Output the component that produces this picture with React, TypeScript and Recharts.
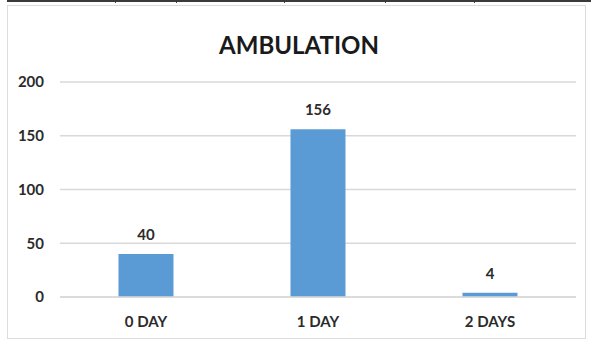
import { BarChart, Bar, XAxis, YAxis, CartesianGrid, LabelList } from 'recharts';

const categories = ['0 DAY', '1 DAY', '2 DAYS'];
const patients = [40, 156, 4];
const yTicks = [0, 50, 100, 150, 200];
// table cell dividers along the strip above the chart
const dividerXs = [115, 176, 284, 385, 474];

const rows = categories.map((day, i) => ({ day, count: patients[i] }));

const font = 'Lato, "Open Sans", sans-serif';
const ink = '#2b2b2b';

export default function App() {
  return (
    <div style={{ position: 'absolute', left: 0, top: 0, width: 591, height: 342, background: '#fff', overflow: 'hidden' }}>
      <div style={{ position: 'absolute', left: 7, top: 0, width: 584, height: 2, background: '#3a3a3a' }} />
      {dividerXs.map((x) => (
        <div key={x} style={{ position: 'absolute', left: x, top: 0, width: 1, height: 3, background: '#3a3a3a' }} />
      ))}
      <div
        style={{
          position: 'absolute',
          left: 7,
          top: 5,
          width: 579,
          height: 334,
          border: '1px solid #dcdcdc',
          boxSizing: 'border-box',
        }}
      />
      <div
        style={{
          position: 'absolute',
          left: 0,
          top: 29,
          width: 598,
          textAlign: 'center',
          fontFamily: font,
          fontWeight: 700,
          fontSize: 24,
          color: '#1a1a1a',
          lineHeight: '32px',
        }}
      >
        AMBULATION
      </div>
      <div style={{ position: 'absolute', left: 0, top: 0 }}>
        <BarChart
          width={591}
          height={342}
          data={rows}
          margin={{ top: 82, right: 15, bottom: 15, left: 0 }}
          barCategoryGap="34%"
        >
          <CartesianGrid vertical={false} stroke="#d9d9d9" strokeWidth={1.5} />
          <XAxis
            dataKey="day"
            height={30}
            axisLine={{ stroke: '#d9d9d9', strokeWidth: 1.5 }}
            tickLine={false}
            tickSize={0}
            tickMargin={19}
            tick={{ fill: ink, fontSize: 15, fontWeight: 700, fontFamily: font }}
          />
          <YAxis
            width={60}
            domain={[0, 200]}
            ticks={yTicks}
            axisLine={false}
            tickLine={false}
            tickSize={0}
            tickMargin={16}
            tick={{ fill: ink, fontSize: 15, fontWeight: 700, fontFamily: font }}
          />
          <Bar dataKey="count" fill="#5b9bd5" isAnimationActive={false}>
            <LabelList
              dataKey="count"
              position="top"
              offset={14}
              fill={ink}
              fontSize={15}
              fontWeight={700}
              fontFamily={font}
            />
          </Bar>
        </BarChart>
      </div>
    </div>
  );
}
